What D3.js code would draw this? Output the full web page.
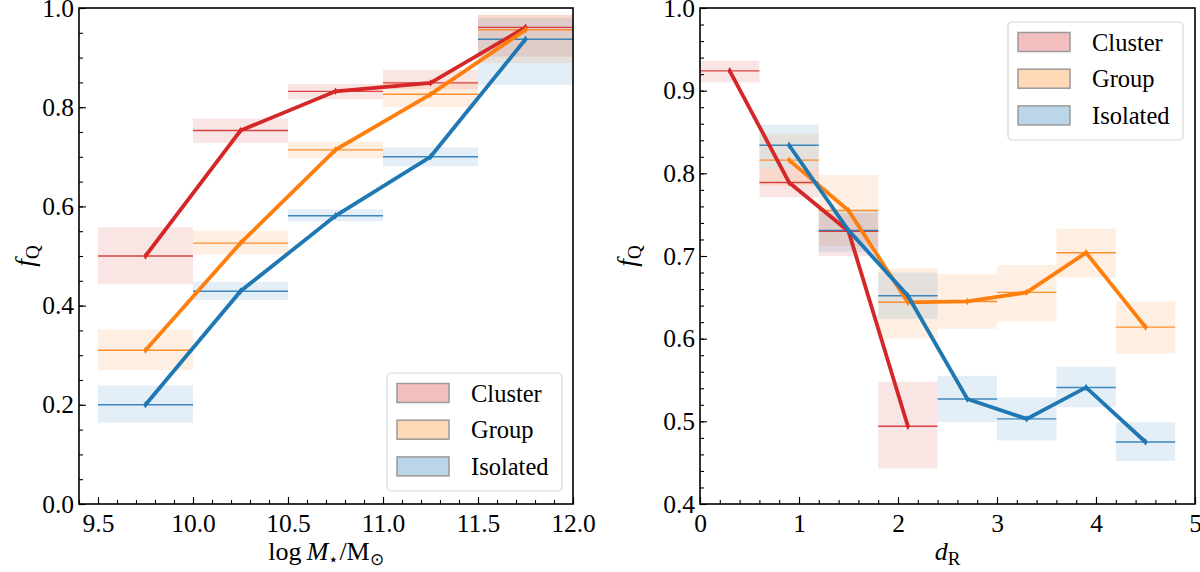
<!DOCTYPE html>
<html>
<head>
<meta charset="utf-8">
<script src="https://cdn.jsdelivr.net/npm/d3@7"></script>
<style>
body { margin: 0; background: #fff; }
svg text { font-family: "Liberation Serif", "Times New Roman", serif; fill: #000; }
</style>
</head>
<body>
<script>
// Etiquetas y colores de las series
var seriesNames = ["Cluster", "Group", "Isolated"];
var seriesColors = ["#d62728", "#ff7f0e", "#1f77b4"];

// Panel izquierdo: fracción de quiescentes frente a la masa estelar
var massX = [9.75, 10.25, 10.75, 11.25, 11.75];
var massHalfBin = 0.25;
var massCluster   = [0.500, 0.753, 0.832, 0.849, 0.961];
var massClusterLo = [0.443, 0.728, 0.816, 0.836, 0.902];
var massClusterHi = [0.558, 0.777, 0.847, 0.875, 0.986];
var massGroup     = [0.310, 0.526, 0.714, 0.826, 0.956];
var massGroupLo   = [0.270, 0.503, 0.697, 0.800, 0.889];
var massGroupHi   = [0.352, 0.551, 0.731, 0.852, 0.986];
var massIso       = [0.200, 0.429, 0.581, 0.700, 0.937];
var massIsoLo     = [0.164, 0.411, 0.570, 0.681, 0.845];
var massIsoHi     = [0.239, 0.448, 0.594, 0.719, 0.980];
var massXTicks = [9.5, 10.0, 10.5, 11.0, 11.5, 12.0];
var massYTicks = [0.0, 0.2, 0.4, 0.6, 0.8, 1.0];

// Panel derecho: fracción de quiescentes frente a la distancia d_R
var distHalfBin = 0.3;
var distClusterX  = [0.3, 0.9, 1.5, 2.1];
var distCluster   = [0.924, 0.789, 0.730, 0.494];
var distClusterLo = [0.910, 0.771, 0.700, 0.443];
var distClusterHi = [0.936, 0.806, 0.752, 0.548];
var distGroupX    = [0.9, 1.5, 2.1, 2.7, 3.3, 3.9, 4.5];
var distGroup     = [0.816, 0.755, 0.644, 0.645, 0.656, 0.704, 0.614];
var distGroupLo   = [0.785, 0.712, 0.600, 0.612, 0.621, 0.674, 0.582];
var distGroupHi   = [0.848, 0.798, 0.685, 0.678, 0.689, 0.733, 0.645];
var distIsoX      = [0.9, 1.5, 2.1, 2.7, 3.3, 3.9, 4.5];
var distIso       = [0.834, 0.731, 0.652, 0.527, 0.503, 0.541, 0.475];
var distIsoLo     = [0.806, 0.705, 0.624, 0.499, 0.477, 0.517, 0.452];
var distIsoHi     = [0.859, 0.755, 0.680, 0.555, 0.529, 0.566, 0.499];
var distXTicks = [0, 1, 2, 3, 4, 5];
var distYTicks = [0.4, 0.5, 0.6, 0.7, 0.8, 0.9, 1.0];

function pack(xs, v, lo, hi) {
    return xs.map(function(x, i) { return {x: x, v: v[i], lo: lo[i], hi: hi[i]}; });
}

var svg = d3.select("body").append("svg")
    .attr("width", 1200)
    .attr("height", 572);

var panelH = 496;

function drawPanel(p) {
    var g = svg.append("g").attr("transform", "translate(" + p.left + "," + p.top + ")");

    var x = d3.scaleLinear().domain(p.xDomain).range([0, p.width]);
    var y = d3.scaleLinear().domain(p.yDomain).range([panelH, 0]);

    // Bandas y líneas horizontales por bin
    p.series.forEach(function(s, k) {
        var c = seriesColors[k];
        g.selectAll(null).data(s).enter().append("rect")
            .attr("x", function(d) { return x(d.x - p.halfBin); })
            .attr("width", function(d) { return x(d.x + p.halfBin) - x(d.x - p.halfBin); })
            .attr("y", function(d) { return y(d.hi); })
            .attr("height", function(d) { return y(d.lo) - y(d.hi); })
            .attr("fill", c)
            .attr("fill-opacity", 0.12);
    });
    p.series.forEach(function(s, k) {
        var c = seriesColors[k];
        g.selectAll(null).data(s).enter().append("line")
            .attr("x1", function(d) { return x(d.x - p.halfBin); })
            .attr("x2", function(d) { return x(d.x + p.halfBin); })
            .attr("y1", function(d) { return y(d.v); })
            .attr("y2", function(d) { return y(d.v); })
            .attr("stroke", c)
            .attr("stroke-opacity", 0.85)
            .attr("stroke-width", 1.4);
    });

    // Líneas gruesas que unen los centros
    var line = d3.line()
        .x(function(d) { return x(d.x); })
        .y(function(d) { return y(d.v); });
    p.series.forEach(function(s, k) {
        var c = seriesColors[k];
        g.append("path")
            .attr("d", line(s))
            .attr("fill", "none")
            .attr("stroke", c)
            .attr("stroke-width", 3.8)
            .attr("stroke-linejoin", "miter");
        g.selectAll(null).data(s).enter().append("path")
            .attr("d", d3.symbol(d3.symbolDiamond, 16))
            .attr("transform", function(d) { return "translate(" + x(d.x) + "," + y(d.v) + ")"; })
            .attr("fill", c);
    });

    // Ejes (marcas hacia dentro)
    var fmtX = p.xFormat, fmtY = d3.format(".1f");
    var xMajor = g.append("g").attr("transform", "translate(0," + panelH + ")")
        .call(d3.axisBottom(x).tickValues(p.xTicks).tickFormat(fmtX)
            .tickSizeInner(-7).tickSizeOuter(0).tickPadding(10));
    var xMinor = g.append("g").attr("transform", "translate(0," + panelH + ")")
        .call(d3.axisBottom(x).tickValues(p.xMinor).tickFormat("")
            .tickSizeInner(-4).tickSizeOuter(0));
    var yMajor = g.append("g")
        .call(d3.axisLeft(y).tickValues(p.yTicks).tickFormat(fmtY)
            .tickSizeInner(-7).tickSizeOuter(0).tickPadding(5));
    var yMinor = g.append("g")
        .call(d3.axisLeft(y).tickValues(p.yMinor).tickFormat("")
            .tickSizeInner(-4).tickSizeOuter(0));
    [xMajor, xMinor, yMajor, yMinor].forEach(function(a) {
        a.attr("font-family", null).attr("font-size", null);
        a.select(".domain").remove();
        a.selectAll(".tick line").attr("stroke", "#000").attr("stroke-width", 1.1);
        a.selectAll(".tick text")
            .style("font-family", "'Liberation Serif', serif")
            .style("font-size", "25.5px");
    });

    // Marco
    g.append("rect")
        .attr("width", p.width).attr("height", panelH)
        .attr("fill", "none").attr("stroke", "#000").attr("stroke-width", 1.6);

    // Título del eje X
    var xl = g.append("text")
        .attr("x", p.width / 2).attr("y", panelH + 56)
        .attr("text-anchor", "middle")
        .style("font-size", "26px");
    p.xLabel(xl);

    // Título del eje Y: f_Q
    var yl = g.append("text")
        .attr("transform", "translate(" + p.yLabelX + "," + panelH / 2 + ") rotate(-90)")
        .attr("text-anchor", "middle")
        .style("font-size", "27px");
    yl.append("tspan").style("font-style", "italic").text("f");
    yl.append("tspan").attr("dy", 5).style("font-size", "19px").text("Q");

    // Leyenda
    var lg = g.append("g").attr("transform", "translate(" + p.legend[0] + "," + p.legend[1] + ")");
    lg.append("rect")
        .attr("width", 175).attr("height", 118).attr("rx", 4)
        .attr("fill", "#fff").attr("fill-opacity", 0.8)
        .attr("stroke", "#d6d6d6").attr("stroke-width", 1.2);
    seriesNames.forEach(function(name, i) {
        var cy = 20 + i * 36.7;
        lg.append("rect")
            .attr("x", 10).attr("y", cy - 9.5)
            .attr("width", 52).attr("height", 19)
            .attr("fill", seriesColors[i]).attr("fill-opacity", 0.3)
            .attr("stroke", "#9a9a9a").attr("stroke-width", 1.5);
        lg.append("text")
            .attr("x", 84).attr("y", cy).attr("dy", "0.35em")
            .style("font-size", "24.5px")
            .text(name);
    });
}

function range(a, b, step) {
    var out = [];
    for (var v = a; v <= b + 1e-9; v += step) out.push(+v.toFixed(3));
    return out;
}

drawPanel({
    left: 79, top: 8, width: 494,
    xDomain: [9.4, 12.0], yDomain: [0, 1],
    halfBin: massHalfBin,
    xTicks: massXTicks, yTicks: massYTicks,
    xMinor: range(9.4, 12.0, 0.1), yMinor: range(0, 1, 0.05),
    xFormat: d3.format(".1f"),
    yLabelX: -45,
    series: [
        pack(massX, massCluster, massClusterLo, massClusterHi),
        pack(massX, massGroup, massGroupLo, massGroupHi),
        pack(massX, massIso, massIsoLo, massIsoHi)
    ],
    legend: [308, 365],
    xLabel: function(t) {
        t.append("tspan").text("log\u2009");
        t.append("tspan").style("font-style", "italic").text("M");
        t.append("tspan").attr("dy", 5).style("font-size", "17px").text("\u22c6");
        t.append("tspan").attr("dy", -5).text("/M");
        t.append("tspan").attr("dy", 5).style("font-size", "17px").text("\u2299");
    }
});

drawPanel({
    left: 700, top: 8, width: 495,
    xDomain: [0, 5], yDomain: [0.4, 1.0],
    halfBin: distHalfBin,
    xTicks: distXTicks, yTicks: distYTicks,
    xMinor: range(0, 5, 0.2), yMinor: range(0.4, 1.0, 0.02),
    xFormat: d3.format("d"),
    yLabelX: -64,
    series: [
        pack(distClusterX, distCluster, distClusterLo, distClusterHi),
        pack(distGroupX, distGroup, distGroupLo, distGroupHi),
        pack(distIsoX, distIso, distIsoLo, distIsoHi)
    ],
    legend: [308, 14],
    xLabel: function(t) {
        t.append("tspan").style("font-style", "italic").text("d");
        t.append("tspan").attr("dy", 5).style("font-size", "19px").text("R");
    }
});
</script>
</body>
</html>
